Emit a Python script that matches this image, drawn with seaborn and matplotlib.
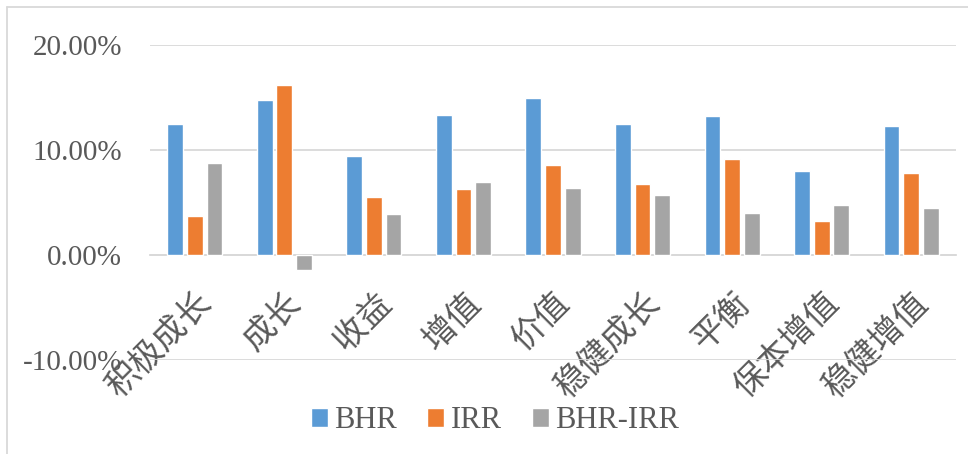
import matplotlib
matplotlib.use('Agg')
import matplotlib.pyplot as plt
import seaborn as sns
import numpy as np
import pandas as pd
from matplotlib.ticker import PercentFormatter
from matplotlib.lines import Line2D

# 基金类型与三组收益率
categories = ['积极成长', '成长', '收益', '增值', '价值', '稳健成长', '平衡', '保本增值', '稳健增值']
series = ['BHR', 'IRR', 'BHR-IRR']
bhr = [0.1245, 0.1476, 0.0946, 0.1330, 0.1498, 0.1245, 0.1320, 0.0800, 0.1225]
irr = [0.0371, 0.1620, 0.0549, 0.0630, 0.0854, 0.0676, 0.0914, 0.0321, 0.0778]
diff = [0.0873, -0.0143, 0.0394, 0.0695, 0.0641, 0.0571, 0.0403, 0.0476, 0.0444]
colors = ['#5B9BD5', '#ED7D31', '#A5A5A5']

df = pd.DataFrame({
    '类型': categories * 3,
    '系列': np.repeat(series, len(categories)),
    '值': bhr + irr + diff,
})

sns.set_style('white')
plt.rcParams['font.family'] = ['Liberation Serif', 'DejaVu Serif']
plt.rcParams['axes.unicode_minus'] = False

fig = plt.figure(figsize=(9.68, 4.54), dpi=100)
ax = fig.add_axes([150 / 968, 1 - 360 / 454, 806 / 968, 315 / 454])

sns.barplot(data=df, x='类型', y='值', hue='系列', palette=colors,
            width=0.66, gap=0.2, saturation=1, ax=ax, zorder=3)

ax.set_ylim(-0.10, 0.20)
ax.set_yticks([-0.10, 0.0, 0.10, 0.20])
ax.yaxis.set_major_formatter(PercentFormatter(xmax=1, decimals=2))
ax.grid(axis='y', color='#D9D9D9', linewidth=1.3, zorder=0)
ax.set_xlim(-0.5, len(categories) - 0.5)

for s in ['top', 'right', 'left']:
    ax.spines[s].set_visible(False)
ax.spines['bottom'].set_position(('data', 0))
ax.spines['bottom'].set_color('#D9D9D9')
ax.spines['bottom'].set_linewidth(1.3)

ax.tick_params(axis='y', length=0, pad=20, labelsize=21, labelcolor='#595959')
ax.tick_params(axis='x', length=0, pad=22)
ax.set_xticks(range(len(categories)))
ax.set_xticklabels(categories, rotation=45, ha='right', va='top',
                   rotation_mode='anchor', fontsize=24, color='#595959',
                   family=['Noto Sans CJK SC', 'DejaVu Sans'])
ax.set_xlabel('')
ax.set_ylabel('')

ax.legend(loc='center', bbox_to_anchor=(495 / 968, 1 - 421 / 454),
          bbox_transform=fig.transFigure, ncol=3, frameon=False,
          fontsize=22, labelcolor='#595959', handlelength=0.55,
          handleheight=0.55, handletextpad=0.2, columnspacing=1.0)

# 外框
fig.add_artist(Line2D([7 / 968, 7 / 968], [0, 1 - 7 / 454], transform=fig.transFigure,
                      color='#D9D9D9', linewidth=1.3))
fig.add_artist(Line2D([7 / 968, 1], [1 - 7 / 454, 1 - 7 / 454], transform=fig.transFigure,
                      color='#D9D9D9', linewidth=1.3))

fig.savefig('out.png', dpi=100)
